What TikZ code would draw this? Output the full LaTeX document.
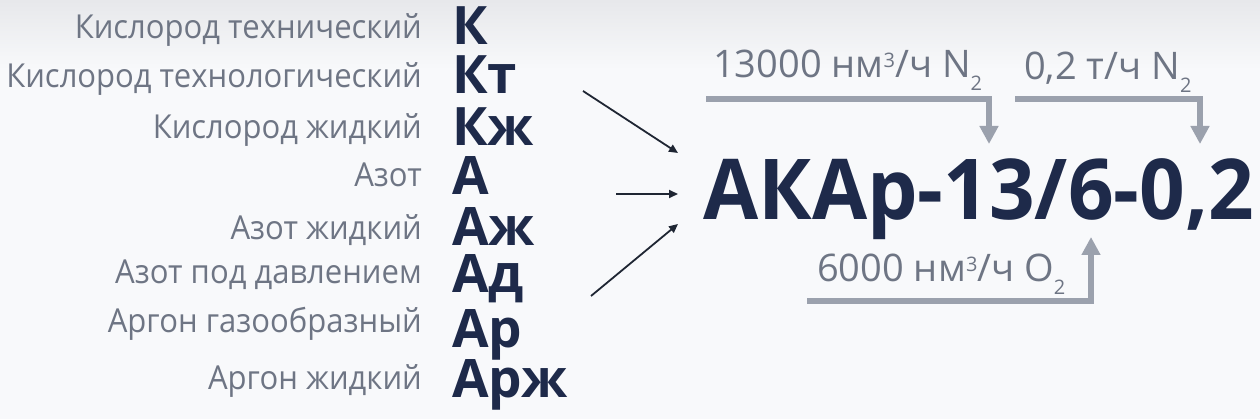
\documentclass[tikz,border=0pt]{standalone}
\usepackage{fontspec}
\setmainfont{Open Sans}
\usetikzlibrary{arrows.meta}
\definecolor{bgc}{HTML}{F8F9FB}
\definecolor{bgtop}{HTML}{E7E8EB}
\definecolor{labgray}{HTML}{6E7584}
\definecolor{navy}{HTML}{1E2A4A}
\definecolor{arrgray}{HTML}{9BA1AD}
\definecolor{darkarr}{HTML}{1F2633}
\newcommand\mysup[1]{\raisebox{10pt}{\fontsize{20}{20}\selectfont #1}}
\newcommand\mysub[1]{\raisebox{-13pt}{\fontsize{20}{20}\selectfont #1}}
\newcommand\labtxt[1]{\scalebox{0.94}[1]{#1}}
\newcommand\titletxt[1]{\scalebox{0.952}[1]{#1}}
\begin{document}
\begin{tikzpicture}[x=1pt,y=-1pt,
 lab/.style={anchor=base east, inner sep=0pt, text=labgray, font=\fontsize{33}{33}\selectfont},
 code/.style={anchor=base west, inner sep=0pt, text=navy, font=\fontsize{53}{53}\selectfont\bfseries},
 flow/.style={anchor=base west, inner sep=0pt, text=labgray, font=\fontsize{38}{38}\selectfont},
 title/.style={anchor=base west, inner sep=0pt, text=navy, font=\fontsize{84}{84}\selectfont\bfseries},
 feed/.style={line width=6pt, draw=arrgray, -{Triangle[length=18pt,width=18pt]}},
 inarr/.style={line width=1.8pt, draw=darkarr, -{Triangle[length=9pt,width=8pt]}}]
\useasboundingbox (0,0) rectangle (1260,419);
\fill[bgc] (0,0) rectangle (1260,419);
\shade[top color=bgtop, bottom color=bgc] (0,0) rectangle (1260,70);
% labels
\node[lab] (l1) at (422,39) {\labtxt{Кислород технический}};
\node[lab] (l2) at (422,88) {\labtxt{Кислород технологический}};
\node[lab] (l3) at (422,139) {\labtxt{Кислород жидкий}};
\node[lab] (l4) at (422,187) {\labtxt{Азот}};
\node[lab] (l5) at (422,240) {\labtxt{Азот жидкий}};
\node[lab] (l6) at (422,284) {\labtxt{Азот под давлением}};
\node[lab] (l7) at (422,332) {\labtxt{Аргон газообразный}};
\node[lab] (l8) at (422,389) {\labtxt{Аргон жидкий}};
% codes
\node[code] (c1) at (452,45) {К};
\node[code] (c2) at (452,94) {Кт};
\node[code] (c3) at (452,146) {Кж};
\node[code] (c4) at (452,195) {А};
\node[code] (c5) at (452,246) {Аж};
\node[code] (c6) at (452,293) {Ад};
\node[code] (c7) at (452,347) {Ар};
\node[code] (c8) at (452,397) {Арж};
% title
\node[title] (t) at (703,220) {\titletxt{АКАр-13/6-0,2}};
% flow labels
\node[flow] (f1) at (713,78) {13000 нм\mysup{3}/ч N\mysub{2}};
\node[flow] (f2) at (1024,80) {0,2 т/ч N\mysub{2}};
\node[flow] (f3) at (817,282) {6000 нм\mysup{3}/ч O\mysub{2}};
% feed brackets
\coordinate (a1s) at (706,99);
\coordinate (a1e) at (989,144);
\coordinate (a2s) at (1015,99);
\coordinate (a2e) at (1200,144);
\coordinate (a3s) at (807,301);
\coordinate (a3e) at (1091,237);
\draw[feed] (a1s) -| (a1e);
\draw[feed] (a2s) -| (a2e);
\draw[feed] (a3s) -| (a3e);
% input arrows
\coordinate (i1s) at (583,91);
\coordinate (i1e) at (678,153);
\coordinate (i2s) at (616,194);
\coordinate (i2e) at (678,194);
\coordinate (i3s) at (591,296);
\coordinate (i3e) at (678,224);
\draw[inarr] (i1s) -- (i1e);
\draw[inarr] (i2s) -- (i2e);
\draw[inarr] (i3s) -- (i3e);
\end{tikzpicture}
\end{document}
